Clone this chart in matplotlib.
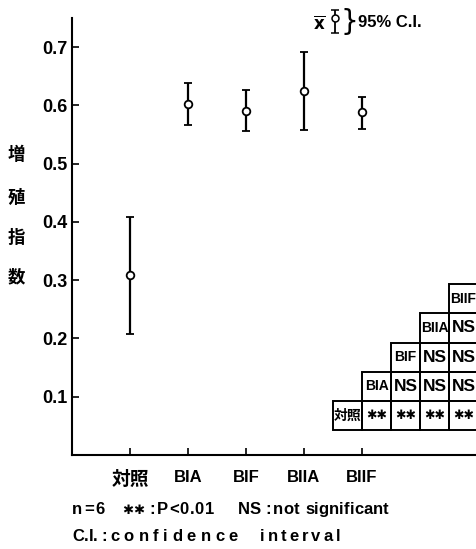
import matplotlib
matplotlib.use("Agg")
import matplotlib.pyplot as plt
from matplotlib.patches import Rectangle

plt.rcParams['font.family'] = ['Liberation Sans', 'Noto Sans CJK JP', 'DejaVu Sans']
plt.rcParams['font.weight'] = 'bold'

categories = ['対照', 'BIA', 'BIF', 'BIIA', 'BIIF']
means = [0.309, 0.602, 0.591, 0.625, 0.589]
ci_low = [0.208, 0.567, 0.556, 0.557, 0.559]
ci_high = [0.408, 0.638, 0.626, 0.692, 0.614]
yticks = [0.1, 0.2, 0.3, 0.4, 0.5, 0.6, 0.7]
ylabel_chars = ['増', '殖', '指', '数']

# significance triangle table
table_labels = ['対照', 'BIA', 'BIF', 'BIIA', 'BIIF']
table_marks = [['✱✱', '✱✱', '✱✱', '✱✱'],
               ['NS', 'NS', 'NS'],
               ['NS', 'NS'],
               ['NS'],
               []]

W, H = 476, 549
fig = plt.figure(figsize=(W/100, H/100), dpi=100)
ax = fig.add_axes([72/W, (H-455)/H, 406/W, 437/H])

x = list(range(1, len(categories) + 1))
yerr = [[m - l for m, l in zip(means, ci_low)], [h - m for m, h in zip(means, ci_high)]]
ax.errorbar(x, means, yerr=yerr, fmt='o', color='black', mfc='white', mec='black',
            ms=5.5, mew=1.3, elinewidth=1.6, capsize=3, capthick=1.6, zorder=3)

ax.set_xlim(0, 7)
ax.set_ylim(0, 0.75)
for s in ['top', 'right']:
    ax.spines[s].set_visible(False)
for s in ['left', 'bottom']:
    ax.spines[s].set_linewidth(1.5)

ax.set_xticks(x)
ax.set_xticklabels(categories, fontsize=12, fontweight='bold')
ax.get_xticklabels()[0].set_fontsize(13.5)
ax.get_xticklabels()[0].set_family(['Noto Sans CJK JP'])
ax.set_yticks(yticks)
ax.set_yticklabels([f'{v:.1f}' for v in yticks], fontsize=13, fontweight='bold')
ax.tick_params(axis='both', direction='in', length=5, width=1.2, colors='black')
ax.tick_params(axis='x', pad=11)
ax.tick_params(axis='y', pad=3)

# vertical y label
ylab_y = [155, 198, 238, 277]
for ch, py in zip(ylabel_chars, ylab_y):
    fig.text(16/W, 1 - py/H, ch, ha='center', va='center', fontsize=12.5,
             fontweight='bold', family=['Noto Sans CJK JP'])

# table
cw, chh = 0.5, 0.05
x0, y0 = 4.5, 0.043
for r, (lab, marks) in enumerate(zip(table_labels, table_marks)):
    cells = [lab] + marks
    for c, txt in enumerate(cells):
        cx = x0 + (r + c) * cw
        cy = y0 + r * chh
        ax.add_patch(Rectangle((cx, cy), cw, chh, fill=False, ec='black', lw=1.4, clip_on=False))
        if c == 0:
            if r == 0:
                ax.text(cx + cw/2, cy + chh/2, txt, ha='center', va='center', fontsize=10,
                        fontweight='bold', family=['Noto Sans CJK JP'], clip_on=False)
            else:
                ax.text(cx + cw/2, cy + chh/2, txt, ha='center', va='center', fontsize=10,
                        fontweight='bold', clip_on=False)
        elif r == 0:
            ax.text(cx + cw/2, cy + chh/2, txt, ha='center', va='center', fontsize=9,
                    family=['DejaVu Sans'], clip_on=False)
        else:
            ax.text(cx + cw/2, cy + chh/2, txt, ha='center', va='center', fontsize=12.5,
                    fontweight='bold', clip_on=False)

# legend in upper right
ax.errorbar([4.53], [0.7496], yerr=[[0.0256], [0.0134]], fmt='o', color='black', mfc='white',
            mec='black', ms=5, mew=1.1, elinewidth=1.3, capsize=3, capthick=1.3, clip_on=False)
ax.text(4.27, 0.742, r'$\overline{\mathrm{x}}$', ha='center', va='center', fontsize=12)
ax.text(4.79, 0.743, '}', ha='center', va='center', fontsize=20, fontweight='normal',
        family=['DejaVu Sans'])
ax.text(4.93, 0.743, '95% C.I.', ha='left', va='center', fontsize=12, fontweight='bold')

# footnotes with letter tracking
renderer = fig.canvas.get_renderer()


def tracked(x_px, y_px, s, size, track, family=('Liberation Sans',)):
    xp = x_px
    for chr_ in s:
        if chr_ == ' ':
            xp += size * 0.4
            continue
        t = fig.text(xp / W, 1 - y_px / H, chr_, ha='left', va='baseline', fontsize=size,
                     fontweight='bold', family=list(family))
        bb = t.get_window_extent(renderer)
        xp += bb.width + track


fb1, fb2 = 514, 541
fs = 12
tracked(72, fb1, 'n=6', fs, 2)
tracked(122, fb1 - 0.5, '✱✱', 9.5, 0.5, family=('DejaVu Sans',))
tracked(149, fb1, ':', fs, 0)
tracked(157, fb1, 'P<0.01', fs, 0.8)
tracked(238, fb1, 'NS', fs, 0)
tracked(265, fb1, ':', fs, 0)
tracked(273, fb1, 'not', fs, 0)
tracked(305, fb1, 'significant', fs, 0.1)
tracked(72, fb2, 'C.I.', fs, 0)
tracked(101, fb2, ':', fs, 0)
tracked(110, fb2, 'confidence', fs, 4.5)
tracked(260, fb2, 'interval', fs, 3.0)

fig.savefig('out.png', dpi=100)
